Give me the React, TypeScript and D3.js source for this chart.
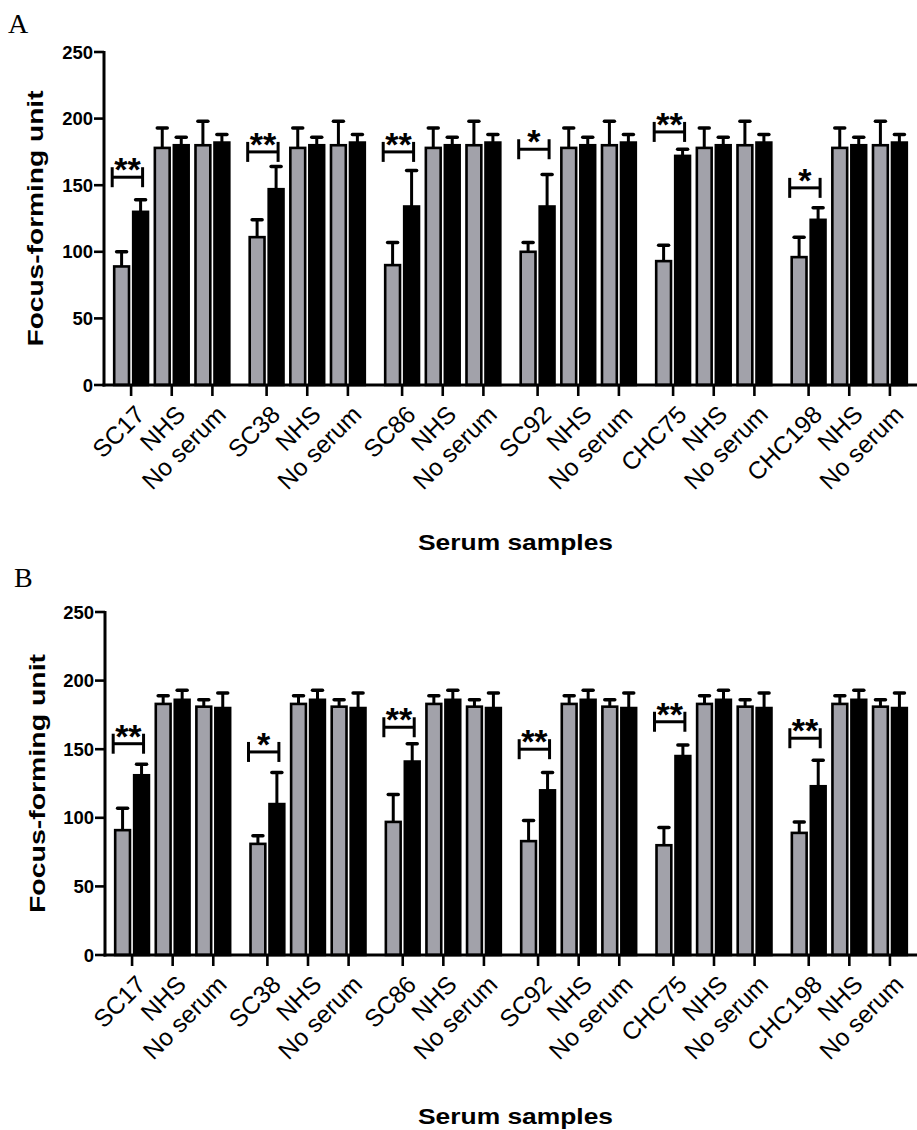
import React from "react";
import * as d3 from "d3";

// ---------- data ----------
const groups = ["SC17", "SC38", "SC86", "SC92", "CHC75", "CHC198"];
const conditions = ["sample", "NHS", "No serum"];
const series = ["gray", "black"];
const yTicks = [0, 50, 100, 150, 200, 250];

// Panel A
const aSampleGray = [89, 111, 90, 100, 93, 96];
const aSampleGrayErr = [11, 13, 17, 7, 12, 15];
const aSampleBlack = [130, 147, 134, 134, 172, 124];
const aSampleBlackErr = [9, 17, 27, 24, 5, 9];
const aNHS = [178, 180];
const aNHSErr = [15, 6];
const aNoSerum = [180, 182];
const aNoSerumErr = [18, 6];
const aBracket = [156, 175, 175, 177, 190, 148];
const aStars = ["**", "**", "**", "*", "**", "*"];

// Panel B
const bSampleGray = [91, 81, 97, 83, 80, 89];
const bSampleGrayErr = [16, 6, 20, 15, 13, 8];
const bSampleBlack = [131, 110, 141, 120, 145, 123];
const bSampleBlackErr = [8, 23, 13, 13, 8, 19];
const bNHS = [183, 186];
const bNHSErr = [6, 7];
const bNoSerum = [181, 180];
const bNoSerumErr = [5, 11];
const bBracket = [154, 148, 166, 150, 170, 158];
const bStars = ["**", "*", "**", "**", "**", "**"];

const FONT = "'Liberation Sans', Arial, Helvetica, sans-serif";
const GRAY = "#a2a2aa";

type PanelData = {
  sampleGray: number[];
  sampleGrayErr: number[];
  sampleBlack: number[];
  sampleBlackErr: number[];
  nhs: number[];
  nhsErr: number[];
  noSerum: number[];
  noSerumErr: number[];
  bracket: number[];
  stars: string[];
};

function buildRows(d: PanelData) {
  const rows: { g: string; c: string; s: string; v: number; e: number }[] = [];
  groups.forEach((g, i) => {
    rows.push({ g, c: "sample", s: "gray", v: d.sampleGray[i], e: d.sampleGrayErr[i] });
    rows.push({ g, c: "sample", s: "black", v: d.sampleBlack[i], e: d.sampleBlackErr[i] });
    rows.push({ g, c: "NHS", s: "gray", v: d.nhs[0], e: d.nhsErr[0] });
    rows.push({ g, c: "NHS", s: "black", v: d.nhs[1], e: d.nhsErr[1] });
    rows.push({ g, c: "No serum", s: "gray", v: d.noSerum[0], e: d.noSerumErr[0] });
    rows.push({ g, c: "No serum", s: "black", v: d.noSerum[1], e: d.noSerumErr[1] });
  });
  return rows;
}

function Panel(props: {
  data: PanelData;
  yTop: number;
  yBottom: number;
  axisX: number;
  letter: string;
  letterX: number;
  letterY: number;
  yTitleX: number;
  yTitleLen: number;
  xTitleY: number;
}) {
  const { data, yTop, yBottom, axisX } = props;
  const y = d3.scaleLinear().domain([0, 250]).range([yBottom, yTop]);
  const xG = d3.scaleBand<string>().domain(groups).range([axisX, 917]).paddingInner(0.1).paddingOuter(0.05);
  const xC = d3.scaleBand<string>().domain(conditions).range([0, xG.bandwidth()]);
  const xS = d3.scaleBand<string>().domain(series).range([0, xC.bandwidth()]).paddingInner(0.22).paddingOuter(0.18);
  const bw = xS.bandwidth();
  const rows = buildRows(data);
  const barX = (g: string, c: string, s: string) => (xG(g) as number) + (xC(c) as number) + (xS(s) as number);
  const tickX = (g: string, c: string) => (xG(g) as number) + (xC(c) as number) + xC.bandwidth() / 2;

  return (
    <g>
      <text x={props.letterX} y={props.letterY} fontFamily="'Liberation Serif', 'Times New Roman', serif" fontSize={28}>
        {props.letter}
      </text>
      {/* bars */}
      {rows.map((r, i) => {
        const x = barX(r.g, r.c, r.s);
        const top = y(r.v);
        const cx = x + bw / 2;
        return (
          <g key={i}>
            <line x1={cx} x2={cx} y1={top} y2={y(r.v + r.e)} stroke="#000" strokeWidth={3} />
            <line x1={cx - 5} x2={cx + 5} y1={y(r.v + r.e)} y2={y(r.v + r.e)} stroke="#000" strokeWidth={3.5} strokeLinecap="round" />
            <rect x={x} y={top} width={bw} height={yBottom - top} fill={r.s === "gray" ? GRAY : "#000"} stroke="#000" strokeWidth={2.6} />
          </g>
        );
      })}
      {/* brackets */}
      {groups.map((g, i) => {
        const x1 = barX(g, "sample", "gray") - 2;
        const x2 = barX(g, "sample", "black") + bw / 2 + 2;
        const by = y(data.bracket[i]);
        return (
          <g key={"b" + i}>
            <line x1={x1} x2={x2} y1={by} y2={by} stroke="#000" strokeWidth={3} />
            <line x1={x1} x2={x1} y1={by - 10} y2={by + 10} stroke="#000" strokeWidth={3} />
            <line x1={x2} x2={x2} y1={by - 10} y2={by + 10} stroke="#000" strokeWidth={3} />
            <text x={(x1 + x2) / 2} y={by + 4} textAnchor="middle" fontFamily={FONT} fontSize={34} fontWeight="bold">
              {data.stars[i]}
            </text>
          </g>
        );
      })}
      {/* y axis */}
      <line x1={axisX} x2={axisX} y1={yTop - 1} y2={yBottom + 1.5} stroke="#000" strokeWidth={3} />
      {yTicks.map((t) => (
        <g key={t}>
          <line x1={axisX - 10} x2={axisX} y1={y(t)} y2={y(t)} stroke="#000" strokeWidth={2.6} />
          <text x={axisX - 11} y={y(t)} dy="0.36em" textAnchor="end" fontFamily={FONT} fontWeight="bold" fontSize={18.5}>
            {t}
          </text>
        </g>
      ))}
      {/* x axis */}
      <line x1={axisX - 1.5} x2={917} y1={yBottom} y2={yBottom} stroke="#000" strokeWidth={3} />
      {groups.map((g) =>
        conditions.map((c) => {
          const tx = tickX(g, c);
          const label = c === "sample" ? g : c;
          return (
            <g key={g + c}>
              <line x1={tx} x2={tx} y1={yBottom} y2={yBottom + 11} stroke="#000" strokeWidth={2.6} />
              <text
                transform={`translate(${tx + 15},${yBottom + 31}) rotate(-45)`}
                textAnchor="end"
                fontFamily={FONT}
                fontSize={24.5}
              >
                {label}
              </text>
            </g>
          );
        })
      )}
      {/* titles */}
      <text
        transform={`translate(${props.yTitleX},${(yTop + yBottom) / 2}) rotate(-90)`}
        textAnchor="middle"
        fontFamily={FONT}
        fontWeight="bold"
        fontSize={22}
        textLength={props.yTitleLen}
        lengthAdjust="spacingAndGlyphs"
      >
        Focus-forming unit
      </text>
      <text
        x={515.5}
        y={props.xTitleY}
        textAnchor="middle"
        fontFamily={FONT}
        fontWeight="bold"
        fontSize={22}
        textLength={195}
        lengthAdjust="spacingAndGlyphs"
      >
        Serum samples
      </text>
    </g>
  );
}

export default function App() {
  const dataA: PanelData = {
    sampleGray: aSampleGray,
    sampleGrayErr: aSampleGrayErr,
    sampleBlack: aSampleBlack,
    sampleBlackErr: aSampleBlackErr,
    nhs: aNHS,
    nhsErr: aNHSErr,
    noSerum: aNoSerum,
    noSerumErr: aNoSerumErr,
    bracket: aBracket,
    stars: aStars,
  };
  const dataB: PanelData = {
    sampleGray: bSampleGray,
    sampleGrayErr: bSampleGrayErr,
    sampleBlack: bSampleBlack,
    sampleBlackErr: bSampleBlackErr,
    nhs: bNHS,
    nhsErr: bNHSErr,
    noSerum: bNoSerum,
    noSerumErr: bNoSerumErr,
    bracket: bBracket,
    stars: bStars,
  };
  return (
    <svg
      width={917}
      height={1130}
      viewBox="0 0 917 1130"
      style={{ position: "absolute", left: 0, top: 0, background: "#fff", display: "block" }}
    >
      <rect width={917} height={1130} fill="#fff" />
      <Panel data={dataA} yTop={52} yBottom={385} axisX={104} letter="A" letterX={8} letterY={33}
        yTitleX={43} yTitleLen={256} xTitleY={550} />
      <Panel data={dataB} yTop={612} yBottom={955} axisX={105} letter="B" letterX={14} letterY={587}
        yTitleX={45} yTitleLen={259} xTitleY={1124} />
    </svg>
  );
}
